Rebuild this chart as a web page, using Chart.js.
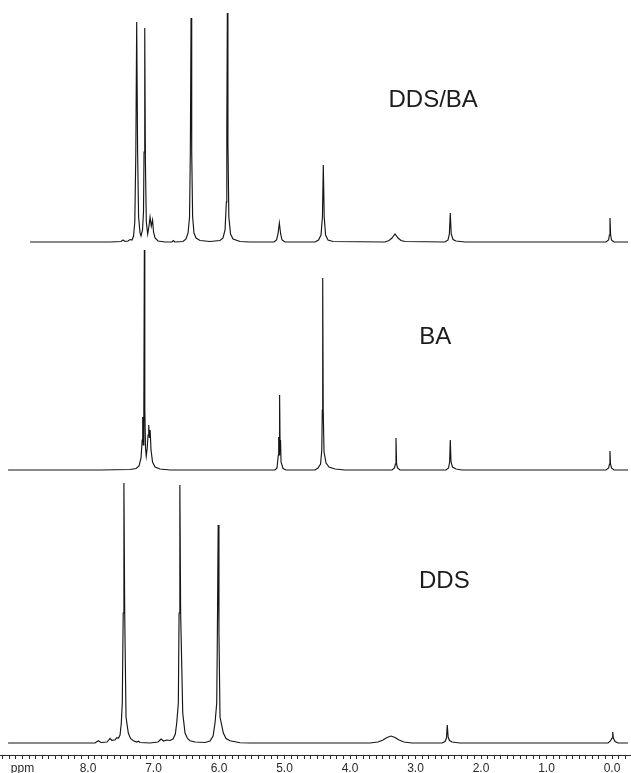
<!DOCTYPE html>
<html>
<head>
<meta charset="utf-8">
<title>1H NMR spectra: DDS/BA, BA, DDS</title>
<script src="https://cdn.jsdelivr.net/npm/chart.js@4.4.1/dist/chart.umd.min.js"></script>
<style>
  html, body { margin: 0; padding: 0; background: #ffffff; }
  #wrap { width: 631px; height: 773px; }
</style>
</head>
<body>
<div id="wrap"><canvas id="nmr" width="631" height="773"></canvas></div>
<script>
// Each trace: [chemical shift (ppm), intensity (a.u.)] readings along the spectrum
const ddsBaSpectrum = [
  [8.885,0],[8.427,0],[7.664,0],[7.496,0.5],[7.466,2],[7.435,0.5],[7.389,1],[7.359,2.5],[7.328,2],
  [7.305,6],[7.286,20],[7.270,90],[7.257,220],[7.243,90],[7.228,25],[7.206,9],[7.191,6],
  [7.168,12],[7.153,30],[7.145,90],[7.134,214],[7.124,80],[7.110,20],[7.089,8],[7.069,16],
  [7.053,25],[7.034,16],[7.015,22],[7.000,10],[6.977,4],[6.931,1],[6.824,0],[6.718,0],[6.698,1.5],
  [6.672,0],[6.550,0.5],[6.504,3],[6.473,9],[6.450,25],[6.438,90],[6.427,224],[6.417,90],[6.403,25],
  [6.382,9],[6.351,4],[6.290,1.5],[6.137,0.5],[5.985,1.5],[5.939,4],[5.908,12],[5.888,40],[5.881,110],
  [5.873,229],[5.864,100],[5.850,25],[5.824,8],[5.786,3],[5.679,0.5],[5.527,0],[5.160,0],[5.122,2],
  [5.099,8],[5.079,19],[5.059,8],[5.038,2],[4.992,0],[4.534,0],[4.481,2],[4.443,7],[4.421,25],
  [4.408,77],[4.394,25],[4.373,7],[4.336,2],[4.260,0.5],[3.466,0],[3.405,1.5],[3.359,4],[3.313,8],
  [3.267,4],[3.221,1.5],[3.160,0.5],[2.550,0],[2.504,2],[2.483,8],[2.469,29],[2.455,8],[2.427,2.5],
  [2.382,1],[2.244,0],[1.099,0],[0.092,0],[0.053,2],[0.040,7],[0.031,24],[0.021,7],[0.008,2],
  [-0.031,0],[-0.244,0]
];

const baSpectrum = [
  [9.221,0],[7.817,0],[7.359,0.5],[7.267,1.5],[7.221,4],[7.191,12],[7.173,30],[7.165,53],[7.156,25],
  [7.148,60],[7.140,220],[7.133,60],[7.122,22],[7.111,14],[7.096,22],[7.084,35],[7.073,45],[7.063,32],
  [7.052,40],[7.038,20],[7.015,8],[6.977,3],[6.901,1],[6.748,0],[5.145,0],[5.115,2],[5.095,15],
  [5.089,33],[5.083,15],[5.075,75],[5.067,20],[5.061,30],[5.053,8],[5.023,1.5],[4.977,0],[4.534,0],
  [4.489,2],[4.450,6],[4.431,20],[4.423,60],[4.417,192],[4.409,60],[4.397,18],[4.366,7],[4.321,3],
  [4.229,1],[4.076,0],[3.359,0],[3.321,2],[3.307,6],[3.298,32],[3.289,6],[3.275,2],[3.237,0],
  [2.534,0],[2.496,2],[2.479,8],[2.469,30],[2.458,8],[2.435,3],[2.382,1],[2.290,0],[0.092,0],
  [0.052,2],[0.038,6],[0.031,19],[0.023,6],[0.008,2],[-0.031,0],[-0.244,0]
];

const ddsSpectrum = [
  [9.221,0],[7.893,0],[7.843,2.3],[7.802,0.5],[7.710,1],[7.664,4.7],[7.634,2.5],[7.614,3],[7.588,3],
  [7.562,5.3],[7.534,5],[7.511,8],[7.492,20],[7.477,40],[7.463,130],[7.452,260],[7.440,130],
  [7.420,26],[7.385,10],[7.351,4.5],[7.308,2.3],[7.256,1],[7.232,1.8],[7.206,0.5],[7.053,0],
  [6.931,1],[6.885,4],[6.847,2],[6.798,3],[6.748,2.5],[6.702,4],[6.667,9],[6.646,20],[6.621,40],
  [6.610,130],[6.598,258],[6.586,130],[6.554,30],[6.519,10],[6.481,4.5],[6.443,2.3],[6.366,1],
  [6.214,0.5],[6.137,2],[6.091,7],[6.061,20],[6.035,40],[6.025,110],[6.013,218],[6.001,110],
  [5.985,26],[5.934,10],[5.893,4.5],[5.832,2.3],[5.679,0.3],[5.527,0],[3.695,0],[3.573,1],[3.496,3],
  [3.435,5.5],[3.374,7],[3.313,5.5],[3.252,3],[3.176,1],[3.053,0],[2.595,0],[2.550,1.5],[2.527,5],
  [2.515,18],[2.502,6],[2.481,2.5],[2.443,1],[2.321,0],[0.061,0],[0.023,2],[0.000,5],[-0.011,11],
  [-0.021,5],[-0.046,1.5],[-0.092,0],[-0.244,0]
];

const traceNames = ['DDS/BA', 'BA', 'DDS'];
const shiftTickValues = [9, 8, 7, 6, 5, 4, 3, 2, 1, 0];
const shiftTickLabels = ['ppm', '8.0', '7.0', '6.0', '5.0', '4.0', '3.0', '2.0', '1.0', '0.0'];

// ---- layout of the stacked traces ----
const PLOT_H = 755;                       // height of the plotting area in px
const AXIS_H = 18;                        // height reserved for the ppm axis
const baselinePx = { yTop: 242, yMid: 470, yBot: 743 };

function stackedAxis(id) {
  const b = baselinePx[id];
  return { display: false, min: -(PLOT_H - b), max: b };
}

// where each trace name sits: shift (ppm) and height on that trace's own axis
const titleAnchors = [
  { axis: 'yTop', ppm: 2.73, value: 135 },
  { axis: 'yMid', ppm: 2.70, value: 126 },
  { axis: 'yBot', ppm: 2.56, value: 155 }
];

const toPoints = (rows) => rows.map(([x, y]) => ({ x, y }));

const traceTitles = {
  id: 'traceTitles',
  afterDatasetsDraw(chart) {
    const { ctx, scales } = chart;
    ctx.save();
    ctx.font = '24px "Liberation Sans", Arial, sans-serif';
    ctx.fillStyle = '#1c1c1c';
    ctx.textAlign = 'center';
    ctx.textBaseline = 'alphabetic';
    titleAnchors.forEach((a, i) => {
      ctx.fillText(traceNames[i], scales.x.getPixelForValue(a.ppm), scales[a.axis].getPixelForValue(a.value));
    });
    ctx.restore();
  }
};

const lineStyle = {
  borderColor: '#151515',
  borderWidth: 1.15,
  pointRadius: 0,
  tension: 0,
  fill: false
};

new Chart(document.getElementById('nmr'), {
  type: 'line',
  data: {
    datasets: [
      { label: traceNames[0], data: toPoints(ddsBaSpectrum), yAxisID: 'yTop', ...lineStyle },
      { label: traceNames[1], data: toPoints(baSpectrum), yAxisID: 'yMid', ...lineStyle },
      { label: traceNames[2], data: toPoints(ddsSpectrum), yAxisID: 'yBot', ...lineStyle }
    ]
  },
  options: {
    responsive: false,
    animation: false,
    events: [],
    layout: { padding: 0 },
    plugins: { legend: { display: false }, tooltip: { enabled: false } },
    scales: {
      x: {
        type: 'linear',
        position: 'bottom',
        reverse: true,
        min: -0.29,
        max: 9.344,
        afterFit(scale) { scale.height = AXIS_H; },
        border: { display: true, color: '#2a2a2a', width: 1 },
        grid: {
          display: true,
          drawOnChartArea: false,
          drawTicks: true,
          tickLength: 4,
          tickColor: '#2a2a2a',
          tickWidth: 1
        },
        ticks: {
          stepSize: 0.1,
          autoSkip: false,
          includeBounds: false,
          maxRotation: 0,
          minRotation: 0,
          padding: 2,
          color: '#2a2a2a',
          font: { family: '"Liberation Sans", Arial, sans-serif', size: 12 },
          callback(value) {
            const k = shiftTickValues.findIndex(v => Math.abs(v - value) < 1e-6);
            return k >= 0 ? shiftTickLabels[k] : '';
          }
        }
      },
      yTop: stackedAxis('yTop'),
      yMid: stackedAxis('yMid'),
      yBot: stackedAxis('yBot')
    }
  },
  plugins: [traceTitles]
});
</script>
</body>
</html>
